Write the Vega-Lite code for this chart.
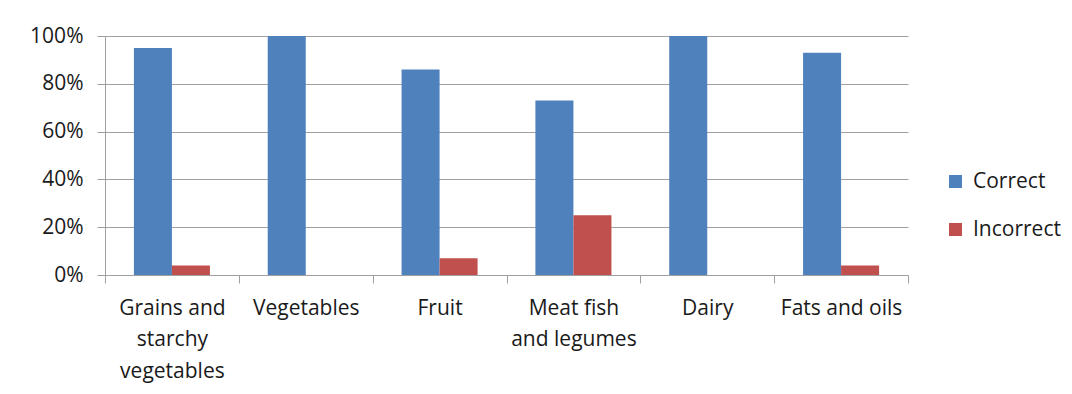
{
  "$schema": "https://vega.github.io/schema/vega-lite/v6.json",
  "autosize": "none",
  "width": 803,
  "height": 239,
  "padding": {"left": 105, "top": 36, "right": 164, "bottom": 119},
  "background": "white",
  "data": {
    "values": [
      {"category": "Grains and starchy vegetables", "series": "Correct", "value": 0.95},
      {"category": "Grains and starchy vegetables", "series": "Incorrect", "value": 0.04},
      {"category": "Vegetables", "series": "Correct", "value": 1.0},
      {"category": "Vegetables", "series": "Incorrect", "value": 0.0},
      {"category": "Fruit", "series": "Correct", "value": 0.86},
      {"category": "Fruit", "series": "Incorrect", "value": 0.07},
      {"category": "Meat fish and legumes", "series": "Correct", "value": 0.73},
      {"category": "Meat fish and legumes", "series": "Incorrect", "value": 0.25},
      {"category": "Dairy", "series": "Correct", "value": 1.0},
      {"category": "Dairy", "series": "Incorrect", "value": 0.0},
      {"category": "Fats and oils", "series": "Correct", "value": 0.93},
      {"category": "Fats and oils", "series": "Incorrect", "value": 0.04}
    ]
  },
  "mark": {"type": "bar"},
  "encoding": {
    "x": {
      "field": "category",
      "type": "nominal",
      "sort": null,
      "scale": {"paddingInner": 0, "paddingOuter": 0},
      "axis": {
        "title": null,
        "labelAngle": 0,
        "labelFont": "Open Sans",
        "labelFontSize": 21,
        "labelColor": "#1a1a1a",
        "labelLineHeight": 31.5,
        "labelPadding": 14,
        "labelBaseline": "top",
        "tickBand": "extent",
        "tickSize": 8,
        "tickColor": "#a0a0a0",
        "domainColor": "#a0a0a0",
        "grid": false,
        "labelExpr": "datum.value == 'Grains and starchy vegetables' ? ['Grains and', 'starchy', 'vegetables'] : datum.value == 'Meat fish and legumes' ? ['Meat fish', 'and legumes'] : datum.value"
      }
    },
    "xOffset": {
      "field": "series",
      "type": "nominal",
      "scale": {"paddingInner": 0, "paddingOuter": 0.76}
    },
    "y": {
      "field": "value",
      "type": "quantitative",
      "scale": {"domain": [0, 1], "nice": false},
      "axis": {
        "title": null,
        "format": ".0%",
        "values": [0, 0.2, 0.4, 0.6, 0.8, 1.0],
        "labelFont": "Open Sans",
        "labelFontSize": 21,
        "labelColor": "#1a1a1a",
        "labelPadding": 14,
        "tickSize": 8,
        "tickColor": "#a0a0a0",
        "domainColor": "#a0a0a0",
        "grid": true,
        "gridColor": "#a0a0a0",
        "gridWidth": 1
      }
    },
    "color": {
      "field": "series",
      "type": "nominal",
      "scale": {"domain": ["Correct", "Incorrect"], "range": ["#4f81bd", "#c0504d"]},
      "legend": {
        "title": null,
        "orient": "none",
        "legendX": 840,
        "legendY": 135,
        "symbolType": "square",
        "symbolSize": 169,
        "symbolStrokeWidth": 0,
        "labelFont": "Open Sans",
        "labelFontSize": 21,
        "labelColor": "#1a1a1a",
        "labelOffset": 7,
        "rowPadding": 26
      }
    }
  },
  "config": {
    "view": {"stroke": null}
  }
}
